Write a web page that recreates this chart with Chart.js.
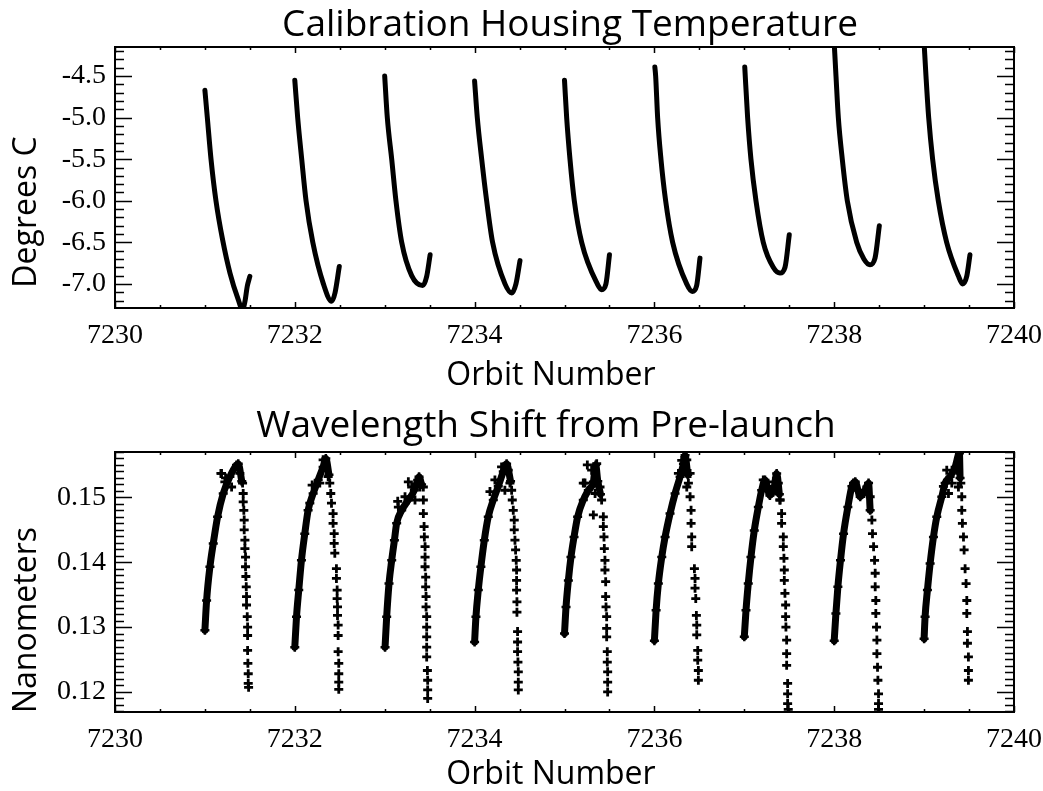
<!DOCTYPE html>
<html>
<head>
<meta charset="utf-8">
<title>Calibration Housing Temperature / Wavelength Shift</title>
<script src="https://cdn.jsdelivr.net/npm/chart.js@4"></script>
<style>
  html, body { margin: 0; padding: 0; background: #fff; }
  canvas { position: absolute; left: 0; }
  #tempChart { top: 0; }
  #shiftChart { top: 395px; }
</style>
</head>
<body>
<canvas id="tempChart" width="1043" height="395"></canvas>
<canvas id="shiftChart" width="1043" height="396"></canvas>
<script>
// ---- Axis ticks ----
const orbitTicks = [7230, 7232, 7234, 7236, 7238, 7240];
const tempTicks = [-7.0, -6.5, -6.0, -5.5, -5.0, -4.5];
const shiftTicks = [0.12, 0.13, 0.14, 0.15];
const orbitMinorStep = 0.5;
const tempMinorStep = 0.1;
const shiftMinorStep = 0.001;

// ---- Calibration housing temperature, one pass per orbit [orbit, deg C] ----
const tempPass1 = [[7231.000,-4.67],[7231.027,-5.00],[7231.068,-5.50],[7231.123,-6.00],[7231.197,-6.47],[7231.279,-6.87],[7231.371,-7.19],[7231.418,-7.31],[7231.446,-7.21],[7231.471,-7.03],[7231.500,-6.91]];
const tempPass2 = [[7232.000,-4.55],[7232.032,-5.00],[7232.077,-5.50],[7232.125,-6.00],[7232.200,-6.50],[7232.318,-7.00],[7232.410,-7.21],[7232.447,-7.11],[7232.495,-6.79]];
const tempPass3 = [[7233.000,-4.50],[7233.029,-5.00],[7233.078,-5.50],[7233.125,-6.00],[7233.189,-6.50],[7233.300,-6.90],[7233.423,-7.02],[7233.467,-6.91],[7233.505,-6.65]];
const tempPass4 = [[7234.000,-4.56],[7234.030,-5.00],[7234.079,-5.50],[7234.134,-6.00],[7234.200,-6.50],[7234.338,-7.00],[7234.413,-7.11],[7234.460,-7.00],[7234.505,-6.72]];
const tempPass5 = [[7235.000,-4.55],[7235.024,-5.00],[7235.061,-5.50],[7235.109,-6.00],[7235.191,-6.50],[7235.365,-7.00],[7235.413,-7.07],[7235.461,-7.00],[7235.500,-6.65]];
const tempPass6 = [[7236.005,-4.39],[7236.014,-4.50],[7236.036,-5.00],[7236.073,-5.50],[7236.125,-6.00],[7236.203,-6.50],[7236.359,-7.00],[7236.421,-7.09],[7236.470,-7.02],[7236.507,-6.69]];
const tempPass7 = [[7237.005,-4.39],[7237.037,-5.00],[7237.074,-5.50],[7237.130,-6.00],[7237.211,-6.50],[7237.322,-6.80],[7237.397,-6.87],[7237.453,-6.80],[7237.500,-6.41]];
const tempPass8 = [[7238.000,-4.10],[7238.020,-4.50],[7238.046,-5.00],[7238.090,-5.50],[7238.146,-6.00],[7238.250,-6.50],[7238.330,-6.70],[7238.398,-6.77],[7238.454,-6.69],[7238.502,-6.30]];
const tempPass9 = [[7239.000,-4.10],[7239.021,-4.50],[7239.051,-5.00],[7239.095,-5.50],[7239.158,-6.00],[7239.251,-6.50],[7239.380,-6.90],[7239.429,-7.00],[7239.474,-6.91],[7239.510,-6.65]];

// ---- Wavelength shift from pre-launch [orbit, nm]: warming branch and cooling branch ----
const shiftRise1 = [[7231.000,0.1295],[7231.019,0.1341],[7231.056,0.1393],[7231.093,0.1429],[7231.141,0.1470],[7231.204,0.1506],[7231.278,0.1532],[7231.352,0.1550],[7231.371,0.1552],[7231.410,0.1525]];
const shiftFall1 = [[7231.419,0.1522],[7231.426,0.1506],[7231.426,0.1493],[7231.433,0.1480],[7231.437,0.1465],[7231.437,0.1450],[7231.445,0.1434],[7231.445,0.1421],[7231.452,0.1408],[7231.452,0.1393],[7231.456,0.1378],[7231.460,0.1362],[7231.463,0.1347],[7231.463,0.1334],[7231.471,0.1316],[7231.475,0.1300],[7231.475,0.1287],[7231.475,0.1264],[7231.478,0.1244],[7231.482,0.1228],[7231.482,0.1213],[7231.486,0.1207]];
const shiftRise2 = [[7232.000,0.1269],[7232.019,0.1316],[7232.044,0.1357],[7232.074,0.1403],[7232.111,0.1444],[7232.148,0.1480],[7232.204,0.1506],[7232.260,0.1527],[7232.315,0.1547],[7232.345,0.1560],[7232.380,0.1535]];
const shiftFall2 = [[7232.389,0.1522],[7232.400,0.1506],[7232.408,0.1491],[7232.426,0.1475],[7232.426,0.1460],[7232.438,0.1444],[7232.438,0.1429],[7232.445,0.1414],[7232.463,0.1390],[7232.463,0.1375],[7232.471,0.1357],[7232.471,0.1344],[7232.475,0.1331],[7232.475,0.1318],[7232.482,0.1303],[7232.482,0.1287],[7232.482,0.1262],[7232.489,0.1244],[7232.489,0.1228],[7232.489,0.1215],[7232.489,0.1204]];
const shiftRise3 = [[7233.004,0.1269],[7233.022,0.1316],[7233.048,0.1367],[7233.078,0.1403],[7233.108,0.1434],[7233.133,0.1460],[7233.189,0.1480],[7233.263,0.1496],[7233.330,0.1511],[7233.367,0.1527],[7233.382,0.1532],[7233.410,0.1520]];
const shiftFall3 = [[7233.430,0.1516],[7233.430,0.1496],[7233.430,0.1475],[7233.438,0.1455],[7233.441,0.1439],[7233.449,0.1424],[7233.449,0.1408],[7233.449,0.1393],[7233.456,0.1377],[7233.456,0.1362],[7233.460,0.1347],[7233.460,0.1331],[7233.467,0.1316],[7233.467,0.1300],[7233.467,0.1285],[7233.467,0.1269],[7233.467,0.1254],[7233.475,0.1233],[7233.478,0.1218],[7233.478,0.1203],[7233.478,0.1190]];
const shiftRise4 = [[7234.000,0.1277],[7234.015,0.1316],[7234.041,0.1357],[7234.070,0.1393],[7234.108,0.1434],[7234.152,0.1470],[7234.208,0.1496],[7234.263,0.1517],[7234.319,0.1540],[7234.356,0.1552],[7234.400,0.1525]];
const shiftFall4 = [[7234.412,0.1511],[7234.419,0.1496],[7234.430,0.1480],[7234.441,0.1465],[7234.441,0.1450],[7234.449,0.1434],[7234.456,0.1419],[7234.463,0.1403],[7234.467,0.1388],[7234.467,0.1372],[7234.467,0.1357],[7234.471,0.1339],[7234.471,0.1323],[7234.478,0.1293],[7234.478,0.1277],[7234.478,0.1262],[7234.482,0.1246],[7234.486,0.1231],[7234.486,0.1215],[7234.486,0.1203]];
const shiftRise5 = [[7235.000,0.1290],[7235.017,0.1331],[7235.043,0.1372],[7235.072,0.1408],[7235.106,0.1439],[7235.146,0.1470],[7235.209,0.1496],[7235.265,0.1511],[7235.321,0.1524],[7235.347,0.1550],[7235.370,0.1525],[7235.400,0.1505]];
const shiftFall5 = [[7235.413,0.1496],[7235.432,0.1470],[7235.432,0.1455],[7235.439,0.1439],[7235.443,0.1421],[7235.450,0.1403],[7235.450,0.1388],[7235.458,0.1370],[7235.458,0.1347],[7235.462,0.1331],[7235.469,0.1316],[7235.469,0.1298],[7235.469,0.1285],[7235.476,0.1262],[7235.476,0.1246],[7235.480,0.1231],[7235.480,0.1215],[7235.480,0.1200]];
const shiftRise6 = [[7236.000,0.1279],[7236.019,0.1326],[7236.044,0.1367],[7236.082,0.1408],[7236.119,0.1439],[7236.174,0.1475],[7236.230,0.1506],[7236.286,0.1532],[7236.323,0.1552],[7236.341,0.1565],[7236.370,0.1535]];
const shiftFall6 = [[7236.378,0.1522],[7236.397,0.1501],[7236.408,0.1480],[7236.408,0.1460],[7236.415,0.1439],[7236.415,0.1424],[7236.445,0.1390],[7236.452,0.1375],[7236.452,0.1360],[7236.460,0.1344],[7236.467,0.1318],[7236.471,0.1303],[7236.471,0.1288],[7236.482,0.1264],[7236.482,0.1249],[7236.489,0.1233],[7236.489,0.1218]];
const shiftRise7 = [[7237.000,0.1285],[7237.019,0.1326],[7237.044,0.1367],[7237.074,0.1408],[7237.111,0.1449],[7237.156,0.1485],[7237.193,0.1511],[7237.230,0.1527],[7237.285,0.1503],[7237.334,0.1517],[7237.360,0.1537],[7237.390,0.1505]];
const shiftFall7 = [[7237.397,0.1496],[7237.415,0.1475],[7237.415,0.1460],[7237.434,0.1439],[7237.434,0.1424],[7237.441,0.1406],[7237.445,0.1388],[7237.445,0.1372],[7237.452,0.1352],[7237.460,0.1334],[7237.460,0.1316],[7237.463,0.1300],[7237.471,0.1280],[7237.471,0.1259],[7237.471,0.1241],[7237.482,0.1213],[7237.482,0.1197],[7237.482,0.1182],[7237.489,0.1173]];
const shiftRise8 = [[7238.000,0.1279],[7238.019,0.1321],[7238.041,0.1362],[7238.070,0.1403],[7238.104,0.1444],[7238.152,0.1485],[7238.197,0.1517],[7238.234,0.1524],[7238.289,0.1501],[7238.340,0.1510],[7238.382,0.1522],[7238.400,0.1480]];
const shiftFall8 = [[7238.419,0.1465],[7238.426,0.1444],[7238.438,0.1424],[7238.449,0.1403],[7238.456,0.1383],[7238.456,0.1362],[7238.463,0.1341],[7238.463,0.1321],[7238.471,0.1300],[7238.475,0.1280],[7238.475,0.1259],[7238.482,0.1238],[7238.486,0.1218],[7238.493,0.1197],[7238.493,0.1182],[7238.493,0.1173]];
const shiftRise9 = [[7239.000,0.1282],[7239.011,0.1316],[7239.037,0.1357],[7239.067,0.1398],[7239.104,0.1439],[7239.141,0.1470],[7239.197,0.1501],[7239.234,0.1522],[7239.289,0.1532],[7239.345,0.1547],[7239.393,0.1568],[7239.400,0.1530]];
const shiftFall9 = [[7239.408,0.1522],[7239.419,0.1501],[7239.419,0.1480],[7239.426,0.1460],[7239.438,0.1439],[7239.445,0.1419],[7239.456,0.1390],[7239.467,0.1367],[7239.475,0.1341],[7239.475,0.1321],[7239.482,0.1293],[7239.482,0.1275],[7239.493,0.1254],[7239.493,0.1233],[7239.493,0.1218]];
// Readings scattered around the top of each warming branch
const shiftScatter = [
  [7231.178,0.1537],[7231.185,0.1537],[7231.222,0.1524],[7231.230,0.1530],[7231.297,0.1516],[7231.389,0.1537],
  [7232.167,0.1491],[7232.193,0.1519],[7232.278,0.1522],[7232.315,0.1558],[7232.352,0.1542],[7232.371,0.1532],
  [7233.145,0.1494],[7233.152,0.1485],[7233.226,0.1501],[7233.263,0.1524],[7233.300,0.1516],[7233.337,0.1496],[7233.393,0.1516],
  [7234.171,0.1509],[7234.226,0.1527],[7234.300,0.1547],[7234.337,0.1511],[7234.374,0.1542],[7234.393,0.1522],
  [7235.209,0.1522],[7235.228,0.1522],[7235.254,0.1550],[7235.302,0.1542],[7235.321,0.1473],[7235.340,0.1506],[7235.358,0.1552],[7235.395,0.1516],
  [7236.267,0.1537],[7236.304,0.1557],[7236.360,0.1558],[7236.360,0.1516],[7236.397,0.1537],
  [7237.211,0.1527],[7237.267,0.1511],[7237.323,0.1524],[7237.378,0.1522],[7237.397,0.1496],
  [7238.215,0.1522],[7238.271,0.1511],[7238.326,0.1506],[7238.363,0.1516],[7238.400,0.1501],
  [7239.215,0.1517],[7239.252,0.1542],[7239.271,0.1506],[7239.308,0.1522],[7239.363,0.1542],[7239.382,0.1516]
];

const tempPasses = [tempPass1, tempPass2, tempPass3, tempPass4, tempPass5, tempPass6, tempPass7, tempPass8, tempPass9];
const shiftRises = [shiftRise1, shiftRise2, shiftRise3, shiftRise4, shiftRise5, shiftRise6, shiftRise7, shiftRise8, shiftRise9];
const shiftFalls = [shiftFall1, shiftFall2, shiftFall3, shiftFall4, shiftFall5, shiftFall6, shiftFall7, shiftFall8, shiftFall9];

const toXY = arr => arr.map(([x, y]) => ({ x, y }));

// Frame plus inward ticks on all four sides, placed through the chart's scales
const axesFrame = {
  id: 'axesFrame',
  afterDraw(chart, args, o) {
    const { ctx, chartArea: a, scales: { x, y } } = chart;
    const isMajor = (list, v) => list.some(m => Math.abs(m - v) < 1e-7);
    ctx.save();
    ctx.strokeStyle = '#000';
    ctx.lineWidth = 1.5;
    ctx.beginPath();
    for (let i = Math.ceil(x.min / o.xMinor - 1e-6); i * o.xMinor <= x.max + 1e-9; i++) {
      const v = i * o.xMinor;
      const len = isMajor(o.xMajor, v) ? 6 : 3;
      const px = Math.round(x.getPixelForValue(v)) + 0.5;
      ctx.moveTo(px, a.bottom); ctx.lineTo(px, a.bottom - len);
      ctx.moveTo(px, a.top); ctx.lineTo(px, a.top + len);
    }
    for (let i = Math.ceil(y.min / o.yMinor - 1e-6); i * o.yMinor <= y.max + 1e-9; i++) {
      const v = i * o.yMinor;
      const len = isMajor(o.yMajor, v) ? 17 : 9;
      const py = Math.round(y.getPixelForValue(v)) + 0.5;
      ctx.moveTo(a.left, py); ctx.lineTo(a.left + len, py);
      ctx.moveTo(a.right, py); ctx.lineTo(a.right - len, py);
    }
    ctx.stroke();
    ctx.lineWidth = 2;
    ctx.strokeRect(a.left, a.top, a.right - a.left, a.bottom - a.top);
    ctx.restore();
  }
};

// Chart title and axis titles
const captions = {
  id: 'captions',
  afterDraw(chart, args, o) {
    const ctx = chart.ctx;
    ctx.save();
    ctx.fillStyle = '#000';
    ctx.textAlign = 'center';
    ctx.textBaseline = 'alphabetic';
    ctx.font = '37px "Open Sans"';
    ctx.fillText(o.title, o.titlePos[0], o.titlePos[1]);
    ctx.font = '32px "Open Sans"';
    ctx.fillText(o.xTitle, o.xTitlePos[0], o.xTitlePos[1]);
    ctx.translate(o.yTitlePos[0], o.yTitlePos[1]);
    ctx.rotate(-Math.PI / 2);
    ctx.fillText(o.yTitle, 0, 0);
    ctx.restore();
  }
};

const tickFont = { family: '"Liberation Serif", "Times New Roman", serif', size: 28 };

function makeScales(yMin, yMax, yTickList, yDigits, xHeight) {
  return {
    x: {
      type: 'linear', min: 7230, max: 7240,
      grid: { display: false, drawTicks: false }, border: { display: false },
      afterBuildTicks: s => { s.ticks = orbitTicks.map(v => ({ value: v })); },
      afterFit: s => { s.height = xHeight; s.paddingLeft = 0; s.paddingRight = 0; },
      ticks: { font: tickFont, color: '#000', padding: 11, maxRotation: 0, autoSkip: false,
               callback: v => v.toFixed(0) }
    },
    y: {
      type: 'linear', min: yMin, max: yMax,
      grid: { display: false, drawTicks: false }, border: { display: false },
      afterBuildTicks: s => { s.ticks = yTickList.map(v => ({ value: v })); },
      afterFit: s => { s.width = 115; s.paddingTop = 0; s.paddingBottom = 0; },
      ticks: { font: tickFont, color: '#000', padding: 9, autoSkip: false,
               callback: v => v.toFixed(yDigits) }
    }
  };
}

function buildCharts() {
  // Top panel: housing temperature
  new Chart(document.getElementById('tempChart'), {
    type: 'line',
    data: {
      datasets: tempPasses.map(p => ({
        data: toXY(p),
        borderColor: '#000', borderWidth: 5,
        borderCapStyle: 'round', borderJoinStyle: 'round',
        cubicInterpolationMode: 'monotone',
        pointRadius: 0, clip: 0
      }))
    },
    options: {
      responsive: false, animation: false,
      layout: { padding: { left: 0, right: 29, top: 47, bottom: 0 } },
      scales: makeScales(-7.29, -4.15, tempTicks, 1, 87),
      plugins: {
        legend: { display: false }, tooltip: { enabled: false },
        axesFrame: { xMinor: orbitMinorStep, xMajor: orbitTicks, yMinor: tempMinorStep, yMajor: tempTicks },
        captions: {
          title: 'Calibration Housing Temperature', titlePos: [570, 36],
          xTitle: 'Orbit Number', xTitlePos: [551, 385],
          yTitle: 'Degrees C', yTitlePos: [36, 212]
        }
      }
    },
    plugins: [axesFrame, captions]
  });

  // Bottom panel: wavelength shift
  const marker = { pointStyle: 'cross', pointBorderColor: '#000', pointBackgroundColor: '#000' };
  const shiftSets = [];
  shiftRises.forEach(r => shiftSets.push(Object.assign({
    data: toXY(r), borderColor: '#000', borderWidth: 7,
    borderCapStyle: 'round', borderJoinStyle: 'round',
    cubicInterpolationMode: 'monotone',
    pointRadius: 4.5, pointBorderWidth: 2.5, clip: 0
  }, marker)));
  shiftFalls.forEach(f => shiftSets.push(Object.assign({
    data: toXY(f), showLine: false,
    pointRadius: 4.5, pointBorderWidth: 2.8, clip: 0
  }, marker)));
  shiftSets.push(Object.assign({
    data: toXY(shiftScatter), showLine: false,
    pointRadius: 4.5, pointBorderWidth: 2.8, clip: 0
  }, marker));

  new Chart(document.getElementById('shiftChart'), {
    type: 'line',
    data: { datasets: shiftSets },
    options: {
      responsive: false, animation: false,
      layout: { padding: { left: 0, right: 29, top: 57, bottom: 0 } },
      scales: makeScales(0.1169, 0.1570, shiftTicks, 2, 79),
      plugins: {
        legend: { display: false }, tooltip: { enabled: false },
        axesFrame: { xMinor: orbitMinorStep, xMajor: orbitTicks, yMinor: shiftMinorStep, yMajor: shiftTicks },
        captions: {
          title: 'Wavelength Shift from Pre-launch', titlePos: [546, 42],
          xTitle: 'Orbit Number', xTitlePos: [551, 389],
          yTitle: 'Nanometers', yTitlePos: [36, 225]
        }
      }
    },
    plugins: [axesFrame, captions]
  });
}

const fontsReady = document.fonts
  ? Promise.all([
      document.fonts.load('37px "Open Sans"'),
      document.fonts.load('28px "Liberation Serif"')
    ]).catch(() => {})
  : Promise.resolve();
fontsReady.then(buildCharts);
</script>
</body>
</html>
